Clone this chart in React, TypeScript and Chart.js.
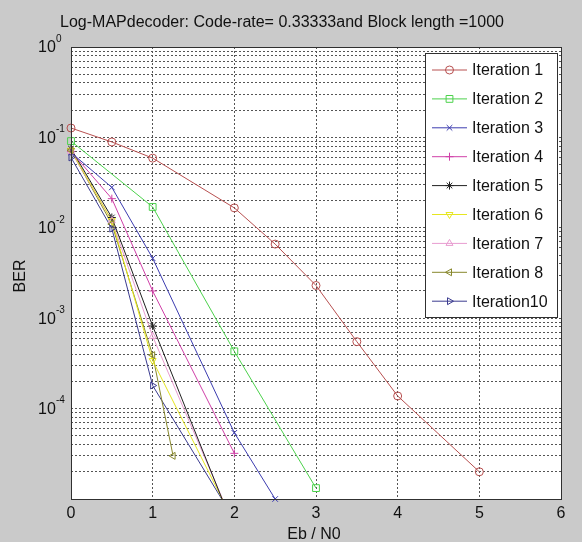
import React, { useEffect, useRef } from "react";
import { Chart, registerables } from "chart.js";

Chart.register(...registerables);

const TITLE = "Log-MAPdecoder: Code-rate= 0.33333and Block length =1000";
const X_LABEL = "Eb / N0";
const Y_LABEL = "BER";
const X_TICKS = [0, 1, 2, 3, 4, 5, 6];
const Y_TICK_EXPONENTS = [0, -1, -2, -3, -4];

const LABELS = ["Iteration 1", "Iteration 2", "Iteration 3", "Iteration 4", "Iteration 5", "Iteration 6", "Iteration 7", "Iteration 8", "Iteration10"];

const x1 = [0, 0.5, 1, 2, 2.5, 3, 3.5, 4, 5];
const y1 = [0.127, 0.089, 0.059, 0.0166, 0.0066, 0.0023, 5.5e-4, 1.38e-4, 2.0e-5];
const x2 = [0, 1, 2, 3];
const y2 = [0.091, 0.017, 4.3e-4, 1.32e-5];
const x3 = [0, 0.5, 1, 2, 2.5];
const y3 = [0.068, 0.028, 0.0046, 5.4e-5, 1.0e-5];
const x4 = [0, 0.5, 1, 2];
const y4 = [0.07, 0.021, 0.002, 3.2e-5];
const x5 = [0, 0.5, 1, 2];
const y5 = [0.075, 0.013, 8.2e-4, 4.6e-6];
const x6 = [0, 0.5, 1, 2];
const y6 = [0.072, 0.012, 3.4e-4, 5.4e-6];
const x7 = [0, 0.5, 1, 2];
const y7 = [0.07, 0.012, 6.3e-4, 5.0e-6];
const x8 = [0, 0.5, 1, 1.25];
const y8 = [0.072, 0.011, 3.9e-4, 3.0e-5];
const x10 = [0, 0.5, 1, 2];
const y10 = [0.06, 0.0098, 1.8e-4, 5.9e-6];

const XS = [x1, x2, x3, x4, x5, x6, x7, x8, x10];
const YS = [y1, y2, y3, y4, y5, y6, y7, y8, y10];
const COLORS = ["#b85050", "#4cd24c", "#3c3cb0", "#d040a8", "#202020", "#e6e620", "#e89cd0", "#88882c", "#3c3c90"];
const MARKERS = ["circle", "rect", "crossRot", "cross", "star", "triDown", "triangle", "triLeft", "triRight"];

const FONT = "'Liberation Sans', Arial, sans-serif";

function drawMarker(ctx: CanvasRenderingContext2D, kind: string, x: number, y: number, r: number, color: string) {
  ctx.save();
  ctx.strokeStyle = color;
  ctx.lineWidth = 1;
  ctx.setLineDash([]);
  ctx.beginPath();
  const tri = (angle: number) => {
    for (let i = 0; i < 3; i++) {
      const a = angle + (i * 2 * Math.PI) / 3;
      const px = x + r * Math.cos(a);
      const py = y + r * Math.sin(a);
      if (i === 0) ctx.moveTo(px, py);
      else ctx.lineTo(px, py);
    }
    ctx.closePath();
  };
  switch (kind) {
    case "circle":
      ctx.arc(x, y, r, 0, Math.PI * 2);
      break;
    case "rect":
      ctx.rect(x - r * 0.85, y - r * 0.85, r * 1.7, r * 1.7);
      break;
    case "crossRot": {
      const d = r * 0.7;
      ctx.moveTo(x - d, y - d); ctx.lineTo(x + d, y + d);
      ctx.moveTo(x - d, y + d); ctx.lineTo(x + d, y - d);
      break;
    }
    case "cross":
      ctx.moveTo(x - r, y); ctx.lineTo(x + r, y);
      ctx.moveTo(x, y - r); ctx.lineTo(x, y + r);
      break;
    case "star": {
      const d = r * 0.7;
      ctx.moveTo(x - r, y); ctx.lineTo(x + r, y);
      ctx.moveTo(x, y - r); ctx.lineTo(x, y + r);
      ctx.moveTo(x - d, y - d); ctx.lineTo(x + d, y + d);
      ctx.moveTo(x - d, y + d); ctx.lineTo(x + d, y - d);
      break;
    }
    case "triangle":
      tri(-Math.PI / 2);
      break;
    case "triDown":
      tri(Math.PI / 2);
      break;
    case "triLeft":
      tri(Math.PI);
      break;
    case "triRight":
      tri(0);
      break;
  }
  ctx.stroke();
  ctx.restore();
}

const decorPlugin = {
  id: "decor",
  beforeDraw(chart: any) {
    const { ctx, chartArea: a } = chart;
    ctx.save();
    ctx.fillStyle = "#cacaca";
    ctx.fillRect(0, 0, chart.width, chart.height);
    ctx.fillStyle = "#ffffff";
    ctx.fillRect(a.left, a.top, a.right - a.left, a.bottom - a.top);
    ctx.restore();
  },
  afterDatasetsDraw(chart: any) {
    const { ctx, chartArea: a } = chart;
    // markers
    chart.data.datasets.forEach((ds: any, i: number) => {
      const meta = chart.getDatasetMeta(i);
      ctx.save();
      ctx.beginPath();
      ctx.rect(a.left - 5, a.top - 5, a.right - a.left + 10, a.bottom - a.top + 10);
      ctx.clip();
      meta.data.forEach((pt: any, j: number) => {
        const v = ds.data[j].y;
        if (v < 1e-5 * 0.98) return;
        drawMarker(ctx, MARKERS[i], pt.x, pt.y, 4, COLORS[i]);
      });
      ctx.restore();
    });
  },
  afterDraw(chart: any) {
    const { ctx, chartArea: a, scales } = chart;
    ctx.save();
    // box
    ctx.strokeStyle = "#303030";
    ctx.lineWidth = 1;
    ctx.setLineDash([]);
    ctx.strokeRect(Math.round(a.left) + 0.5, Math.round(a.top) + 0.5, Math.round(a.right - a.left), Math.round(a.bottom - a.top));

    ctx.fillStyle = "#111";
    // title
    ctx.font = `16px ${FONT}`;
    ctx.textAlign = "center";
    ctx.textBaseline = "middle";
    ctx.fillText(TITLE, 282, 23);
    // x label
    ctx.fillText(X_LABEL, 314, 535);
    // x ticks
    X_TICKS.forEach((t) => {
      ctx.fillText(String(t), scales.x.getPixelForValue(t), 514);
    });
    // y ticks
    Y_TICK_EXPONENTS.forEach((e) => {
      const py = scales.y.getPixelForValue(Math.pow(10, e));
      ctx.font = `16px ${FONT}`;
      ctx.textAlign = "left";
      ctx.textBaseline = "middle";
      ctx.fillText("10", 38, py + 1);
      ctx.font = `10px ${FONT}`;
      ctx.fillText(String(e).replace("-", "-"), 56, py - 8);
    });
    // y label
    ctx.save();
    ctx.translate(21, 276);
    ctx.rotate(-Math.PI / 2);
    ctx.font = `16px ${FONT}`;
    ctx.textAlign = "center";
    ctx.textBaseline = "middle";
    ctx.fillText(Y_LABEL, 0, 0);
    ctx.restore();

    // legend
    const lx = 425, ly = 53, lw = 132, lh = 264;
    ctx.fillStyle = "#ffffff";
    ctx.fillRect(lx, ly, lw, lh);
    ctx.strokeStyle = "#303030";
    ctx.strokeRect(lx + 0.5, ly + 0.5, lw, lh);
    chart.data.datasets.forEach((ds: any, i: number) => {
      const cy = 70 + i * 28.9;
      ctx.strokeStyle = COLORS[i];
      ctx.lineWidth = 1;
      ctx.beginPath();
      ctx.moveTo(432, cy);
      ctx.lineTo(467, cy);
      ctx.stroke();
      drawMarker(ctx, MARKERS[i], 449.5, cy, 4, COLORS[i]);
      ctx.fillStyle = "#111";
      ctx.font = `16px ${FONT}`;
      ctx.textAlign = "left";
      ctx.textBaseline = "middle";
      ctx.fillText(ds.label, 472, cy + 1);
    });
    ctx.restore();
  },
};

export default function App() {
  const ref = useRef<HTMLCanvasElement | null>(null);
  useEffect(() => {
    if (!ref.current) return;
    const datasets = LABELS.map((label, i) => ({
      label,
      data: XS[i].map((x, j) => ({ x, y: YS[i][j] })),
      borderColor: COLORS[i],
      backgroundColor: COLORS[i],
      borderWidth: 1,
      pointRadius: 0,
      pointHoverRadius: 0,
      tension: 0,
      fill: false,
    }));
    const yTicks: number[] = [];
    for (let e = -5; e <= 0; e++) {
      for (let m = 1; m <= 9; m++) {
        const v = m * Math.pow(10, e);
        if (v <= 1.0000001) yTicks.push(v);
      }
    }
    const chart = new Chart(ref.current, {
      type: "line",
      data: { datasets },
      plugins: [decorPlugin],
      options: {
        animation: false,
        responsive: false,
        events: [],
        layout: { padding: { top: 47, left: 0, right: 21, bottom: 0 } },
        plugins: { legend: { display: false }, title: { display: false }, tooltip: { enabled: false } },
        scales: {
          x: {
            type: "linear",
            min: 0,
            max: 6,
            afterBuildTicks: (s: any) => {
              s.ticks = X_TICKS.map((v) => ({ value: v }));
            },
            afterFit: (s: any) => {
              s.height = 43;
            },
            ticks: { display: false },
            grid: { color: "#555", lineWidth: 1, drawTicks: false },
            border: { display: false, dash: [2, 2] },
          },
          y: {
            type: "logarithmic",
            min: 1e-5,
            max: 1,
            afterBuildTicks: (s: any) => {
              s.ticks = yTicks.map((v) => ({ value: v }));
            },
            afterFit: (s: any) => {
              s.width = 71;
            },
            ticks: { display: false },
            grid: { color: "#555", lineWidth: 1, drawTicks: false },
            border: { display: false, dash: [2, 2] },
          },
        },
      },
    });
    return () => chart.destroy();
  }, []);
  return (
    <div style={{ position: "fixed", left: 0, top: 0, width: 582, height: 542 }}>
      <canvas ref={ref} width={582} height={542} style={{ width: 582, height: 542, display: "block" }} />
    </div>
  );
}
